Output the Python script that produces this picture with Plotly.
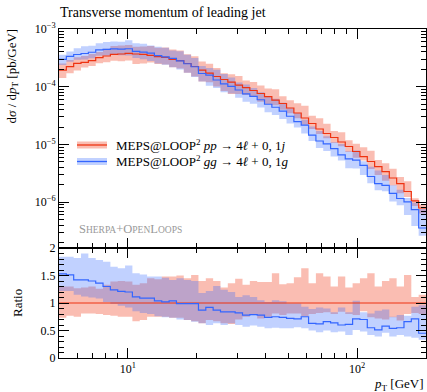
import numpy as np
import plotly.graph_objects as go

# ---------------- data ----------------
x_min, x_max, n_bins = 5.0, 200.0, 50

# red (pp -> 4l + 0,1j) central values, dsigma/dpT [pb/GeV], as log10
red_log = [-3.711, -3.653, -3.594, -3.577, -3.549, -3.497, -3.468, -3.438, -3.433, -3.421,
           -3.433, -3.438, -3.456, -3.480, -3.490, -3.525, -3.549, -3.598, -3.650, -3.711,
           -3.763, -3.823, -3.875, -3.919, -3.971, -4.017, -4.066, -4.118, -4.173, -4.231,
           -4.291, -4.369, -4.456, -4.542, -4.638, -4.733, -4.811, -4.880, -4.958, -5.036,
           -5.123, -5.210, -5.296, -5.386, -5.473, -5.582, -5.678, -5.816, -5.980, -6.102]

# ratio gg / pp (blue central)
ratio_blue = [1.53, 1.51, 1.42, 1.42, 1.40, 1.36, 1.30, 1.24, 1.21, 1.20,
              1.11, 1.09, 1.09, 1.04, 1.02, 1.04, 0.99, 0.99, 0.99, 0.87,
              0.92, 0.87, 0.84, 0.84, 0.82, 0.78, 0.79, 0.78, 0.74, 0.75,
              0.74, 0.72, 0.71, 0.75, 0.63, 0.62, 0.66, 0.64, 0.60, 0.61,
              0.71, 0.70, 0.55, 0.51, 0.58, 0.54, 0.55, 0.66, 0.71, 0.45]
# blue uncertainty band, relative to red central
blue_up = [1.84, 1.84, 1.82, 1.90, 1.82, 1.78, 1.75, 1.66, 1.63, 1.68,
           1.54, 1.52, 1.48, 1.48, 1.46, 1.42, 1.45, 1.42, 1.40, 1.18,
           1.22, 1.31, 1.24, 1.20, 1.11, 1.14, 1.11, 1.05, 1.02, 1.05,
           1.03, 0.99, 0.99, 0.93, 0.89, 0.92, 0.90, 0.83, 0.92, 0.83,
           1.04, 0.83, 0.81, 0.86, 0.88, 0.75, 0.78, 0.77, 0.93, 0.96]
blue_lo = [1.22, 1.22, 1.15, 1.12, 1.10, 1.08, 1.02, 0.98, 0.95, 0.92,
           0.85, 0.82, 0.80, 0.76, 0.74, 0.73, 0.70, 0.69, 0.66, 0.63,
           0.60, 0.63, 0.60, 0.63, 0.60, 0.57, 0.59, 0.57, 0.54, 0.55,
           0.54, 0.54, 0.56, 0.54, 0.50, 0.47, 0.50, 0.47, 0.48, 0.42,
           0.51, 0.48, 0.42, 0.39, 0.46, 0.39, 0.42, 0.39, 0.37, 0.33]
# red uncertainty band, relative to red central
red_up = [1.30, 1.30, 1.27, 1.28, 1.30, 1.26, 1.33, 1.39, 1.40, 1.39,
          1.33, 1.36, 1.45, 1.43, 1.48, 1.48, 1.50, 1.45, 1.51, 1.40,
          1.45, 1.40, 1.28, 1.36, 1.44, 1.33, 1.40, 1.38, 1.38, 1.54,
          1.34, 1.36, 1.47, 1.63, 1.36, 1.54, 1.48, 1.30, 1.48, 1.28,
          1.36, 1.45, 1.54, 1.30, 1.40, 1.45, 1.30, 1.51, 1.11, 1.15]
red_lo = [0.73, 0.77, 0.75, 0.81, 0.81, 0.80, 0.78, 0.77, 0.75, 0.75,
          0.67, 0.69, 0.75, 0.75, 0.75, 0.73, 0.73, 0.69, 0.67, 0.63,
          0.69, 0.67, 0.63, 0.62, 0.70, 0.75, 0.78, 0.72, 0.75, 0.81,
          0.78, 0.81, 0.81, 0.76, 0.80, 0.82, 0.83, 0.80, 0.84, 0.80,
          0.78, 0.85, 0.74, 0.72, 0.70, 0.74, 0.68, 0.80, 0.82, 0.80]

main_yticks = [1e-6, 1e-5, 1e-4, 1e-3]
main_yticktext = ["10<sup>−6</sup>", "10<sup>−5</sup>", "10<sup>−4</sup>", "10<sup>−3</sup>"]
xticks = [10, 100]
xticktext = ["10<sup>1</sup>", "10<sup>2</sup>"]
x_minor = [6, 7, 8, 9, 20, 30, 40, 50, 60, 70, 80, 90, 200]
y_minor = [m * 10.0 ** e for e in (-7, -6, -5, -4) for m in range(2, 10)]
ratio_ticks = [0, 0.5, 1, 1.5, 2]
ratio_ticktext = ["0", "0.5", "1", "1.5", "2"]

title = "Transverse momentum of leading jet"
leg_red = "MEPS@LOOP<sup>2</sup> <i>pp</i> → 4<i>ℓ</i> + 0, 1<i>j</i>"
leg_blue = "MEPS@LOOP<sup>2</sup> <i>gg</i> → 4<i>ℓ</i> + 0, 1<i>g</i>"

# ---------------- derived ----------------
edges = np.logspace(np.log10(x_min), np.log10(x_max), n_bins + 1)
red = 10 ** np.array(red_log)
rb = np.array(ratio_blue)
bu, bl = np.array(blue_up), np.array(blue_lo)
ru, rl = np.array(red_up), np.array(red_lo)

def st(v):
    v = list(v)
    return v + [v[-1]]

RED = "#EE3311"
BLUE = "#3366FF"
RED_F = "rgba(238,51,17,0.32)"
BLUE_F = "rgba(51,102,255,0.30)"
FONT = "Liberation Serif"

W, H = 427, 392
L, R, T, B = 59, 1, 29, 34
split = (358 - 248) / (358 - 29)

fig = go.Figure()

def band(lo, hi, color, xa, ya):
    fig.add_trace(go.Scatter(x=edges, y=st(lo), mode="lines", line=dict(width=0, shape="hv"),
                             hoverinfo="skip", showlegend=False, xaxis=xa, yaxis=ya))
    fig.add_trace(go.Scatter(x=edges, y=st(hi), mode="lines", line=dict(width=0, shape="hv"),
                             fill="tonexty", fillcolor=color, hoverinfo="skip",
                             showlegend=False, xaxis=xa, yaxis=ya))

def line(v, color, xa, ya):
    fig.add_trace(go.Scatter(x=edges, y=st(v), mode="lines",
                             line=dict(color=color, width=1.2, shape="hv"),
                             showlegend=False, xaxis=xa, yaxis=ya))

# main panel
band(red * rl, red * ru, RED_F, "x", "y")
band(red * bl, red * bu, BLUE_F, "x", "y")
line(red, RED, "x", "y")
line(red * rb, BLUE, "x", "y")
# ratio panel
band(rl, ru, RED_F, "x2", "y2")
band(bl, bu, BLUE_F, "x2", "y2")
line(red / red, RED, "x2", "y2")
line(rb, BLUE, "x2", "y2")

xr = [np.log10(x_min), np.log10(x_max)]
axis_common = dict(showline=True, linecolor="black", linewidth=1, mirror="ticks",
                   ticks="inside", ticklen=10, tickcolor="black", tickwidth=1,
                   showgrid=False, zeroline=False,
                   tickfont=dict(family=FONT, size=12, color="black"))

def minor(vals=None, dtick=None):
    d = dict(ticks="inside", ticklen=5, tickcolor="black", tickwidth=1, showgrid=False)
    if vals is not None:
        d["tickvals"] = vals
    if dtick is not None:
        d["dtick"] = dtick
    return d

fig.update_layout(
    width=W, height=H, margin=dict(l=L, r=R, t=T, b=B),
    plot_bgcolor="white", paper_bgcolor="white", showlegend=False,
    xaxis=dict(type="log", range=xr, domain=[0, 1], anchor="y", matches="x2",
               showticklabels=False, tickvals=xticks, minor=minor(x_minor),
               **axis_common),
    yaxis=dict(type="log", range=[-6.795, -3.0], domain=[split, 1], anchor="x",
               tickvals=main_yticks, ticktext=main_yticktext, minor=minor(y_minor),
               **axis_common),
    xaxis2=dict(type="log", range=xr, domain=[0, 1], anchor="y2",
                tickvals=xticks, ticktext=xticktext, minor=minor(x_minor),
                **axis_common),
    yaxis2=dict(range=[0, 2], domain=[0, split], anchor="x2",
                tickvals=ratio_ticks, ticktext=ratio_ticktext,
                minor=minor(dtick=0.1),
                **axis_common),
)

def px(X):
    return (X - L) / (W - L - R)

def py(Y):
    return (H - B - Y) / (H - T - B)

ann = []
ann.append(dict(text=title, x=px(58), y=py(13), xanchor="left", yanchor="middle",
                font=dict(family=FONT, size=14, color="black")))
ann.append(dict(text="d<i>σ</i> / d<i>p</i><sub>T</sub> [pb/GeV]", x=px(12), y=py(27),
                textangle=-90, xanchor="center", yanchor="top",
                font=dict(family=FONT, size=13, color="black")))
ann.append(dict(text="Ratio", x=px(17), y=py(303), textangle=-90, xanchor="center",
                yanchor="middle", font=dict(family=FONT, size=13, color="black")))
ann.append(dict(text="<i>p</i><sub>T</sub> [GeV]", x=px(426), y=py(384), xanchor="right",
                yanchor="middle", font=dict(family=FONT, size=13, color="black")))
ann.append(dict(text=leg_red, x=px(114), y=py(145), xanchor="left", yanchor="middle",
                font=dict(family=FONT, size=13, color="black")))
ann.append(dict(text=leg_blue, x=px(114), y=py(161), xanchor="left", yanchor="middle",
                font=dict(family=FONT, size=13, color="black")))
sc = "font-size:9.5px"
ann.append(dict(text=f"S<span style='{sc}'>HERPA</span>+O<span style='{sc}'>PEN</span>L<span style='{sc}'>OOPS</span>",
                x=px(77), y=py(229), xanchor="left", yanchor="middle",
                font=dict(family=FONT, size=12.5, color="#999999")))
for a in ann:
    a.update(xref="paper", yref="paper", showarrow=False)
fig.update_layout(annotations=ann)

shapes = []
for yc, fc, lc in [(145, RED_F, RED), (161.5, BLUE_F, BLUE)]:
    shapes.append(dict(type="rect", xref="paper", yref="paper", x0=px(77), x1=px(107),
                       y0=py(yc - 3.5), y1=py(yc + 3.5), fillcolor=fc, line=dict(width=0)))
    shapes.append(dict(type="line", xref="paper", yref="paper", x0=px(77), x1=px(107),
                       y0=py(yc), y1=py(yc), line=dict(color=lc, width=1.3)))
fig.update_layout(shapes=shapes)

fig.write_html("out.html")
